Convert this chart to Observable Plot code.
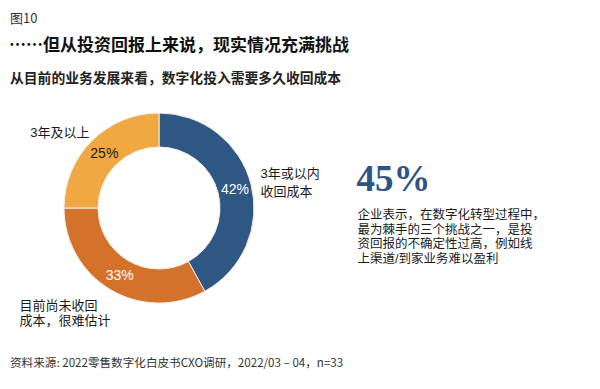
<!DOCTYPE html>
<html><head><meta charset="utf-8">
<script src="https://cdn.jsdelivr.net/npm/d3@7"></script>
<script src="https://cdn.jsdelivr.net/npm/@observablehq/plot@0.6"></script>
<style>
body{margin:0;background:#fff;font-family:"Noto Sans CJK SC",sans-serif;width:600px;height:389px;overflow:hidden;position:relative}
.t{position:absolute;line-height:1;white-space:nowrap}
#fig{left:10px;top:11px;font-size:13px;color:#333}
#title{left:9px;top:35px;font-size:17px;font-weight:bold;color:#111}
#sub{left:10px;top:71px;font-size:13.8px;font-weight:bold;color:#222}
#chart{position:absolute;left:0;top:92px}
#cap{left:10px;top:357px;font-size:11.6px;color:#333}
</style></head>
<body>
<div class="t" id="fig">图10</div>
<div class="t" id="title">……但从投资回报上来说，现实情况充满挑战</div>
<div class="t" id="sub">从目前的业务发展来看，数字化投入需要多久收回成本</div>
<div id="chart"></div>
<div class="t" id="cap">资料来源: 2022零售数字化白皮书CXO调研，2022/03 – 04，n=33</div>
<script>
// ---- data ----
const categories = ["3年或以内收回成本", "目前尚未收回成本，很难估计", "3年及以上"];
const values = [42, 33, 25];
const sliceColors = ["#2f5783", "#d4712b", "#f0a843"];
const pctLabelColors = ["#ffffff", "#ffffff", "#1a1a1a"];
const categoryLabels = ["3年或以内\n收回成本", "目前尚未收回\n成本，很难估计", "3年及以上"];
const highlightValue = "45%";
const highlightLines = ["企业表示，在数字化转型过程中，", "最为棘手的三个挑战之一，是投", "资回报的不确定性过高，例如线", "上渠道/到家业务难以盈利"];

// ---- layout ----
const W = 600, H = 250;
const cx = 159, cy = 116, R = 95, r = 61;
const pie = d3.pie().sort(null).value(d => d.value)(values.map((v, i) => ({value: v, i})));
const arc = d3.arc().innerRadius(r).outerRadius(R);
const labelArc = d3.arc().innerRadius(78).outerRadius(78);

const pctData = pie.map(p => {
  const [dx, dy] = labelArc.centroid(p);
  return {x: cx + dx, y: cy + dy, text: values[p.data.i] + "%", fill: pctLabelColors[p.data.i]};
});

function donut(index, scales) {
  const sx = scales && scales.x ? scales.x : (v => v);
  const sy = scales && scales.y ? scales.y : (v => v);
  const g = d3.create("svg:g").attr("transform", `translate(${sx(cx)},${sy(cy)})`);
  g.selectAll("path").data(pie).join("path")
    .attr("d", arc)
    .attr("fill", d => sliceColors[d.data.i])
    .attr("stroke", "#f4efe6")
    .attr("stroke-width", 1);
  return g.node();
}

const cjk = "Liberation Sans, Noto Sans CJK SC";
const labelFont = {fontSize: 13, fill: "#1a1a1a", fontFamily: cjk, lineAnchor: "middle"};

const chart = Plot.plot({
  width: W, height: H, margin: 0,
  x: {domain: [0, W], range: [0, W], axis: null},
  y: {domain: [0, H], range: [0, H], axis: null},
  style: {background: "transparent"},
  marks: [
    donut,
    Plot.text(pctData, {x: "x", y: "y", text: "text", fill: "fill", fontSize: 14, fontFamily: "Liberation Sans, Arial, sans-serif"}),
    Plot.text([categoryLabels[0]], {x: cx + R + 6, y: 89, text: d => d, textAnchor: "start", lineHeight: 1.33, ...labelFont}),
    Plot.text([categoryLabels[1]], {x: 19, y: 220, text: d => d, textAnchor: "start", lineHeight: 1.2, ...labelFont}),
    Plot.text([categoryLabels[2]], {x: 89, y: 40, text: d => d, textAnchor: "end", ...labelFont}),
    Plot.text([highlightValue], {x: 356, y: 98, text: d => d, textAnchor: "start", lineAnchor: "bottom", fontSize: 37, fontWeight: "bold", fill: "#2e5583", fontFamily: "Liberation Serif, DejaVu Serif, serif"}),
    Plot.text([highlightLines.join("\n")], {x: 357, y: 116, text: d => d, textAnchor: "start", lineAnchor: "top", lineHeight: 1.17, fontSize: 12.5, fill: "#1a1a1a", fontFamily: cjk})
  ]
});
document.getElementById("chart").appendChild(chart);
</script>
</body></html>
